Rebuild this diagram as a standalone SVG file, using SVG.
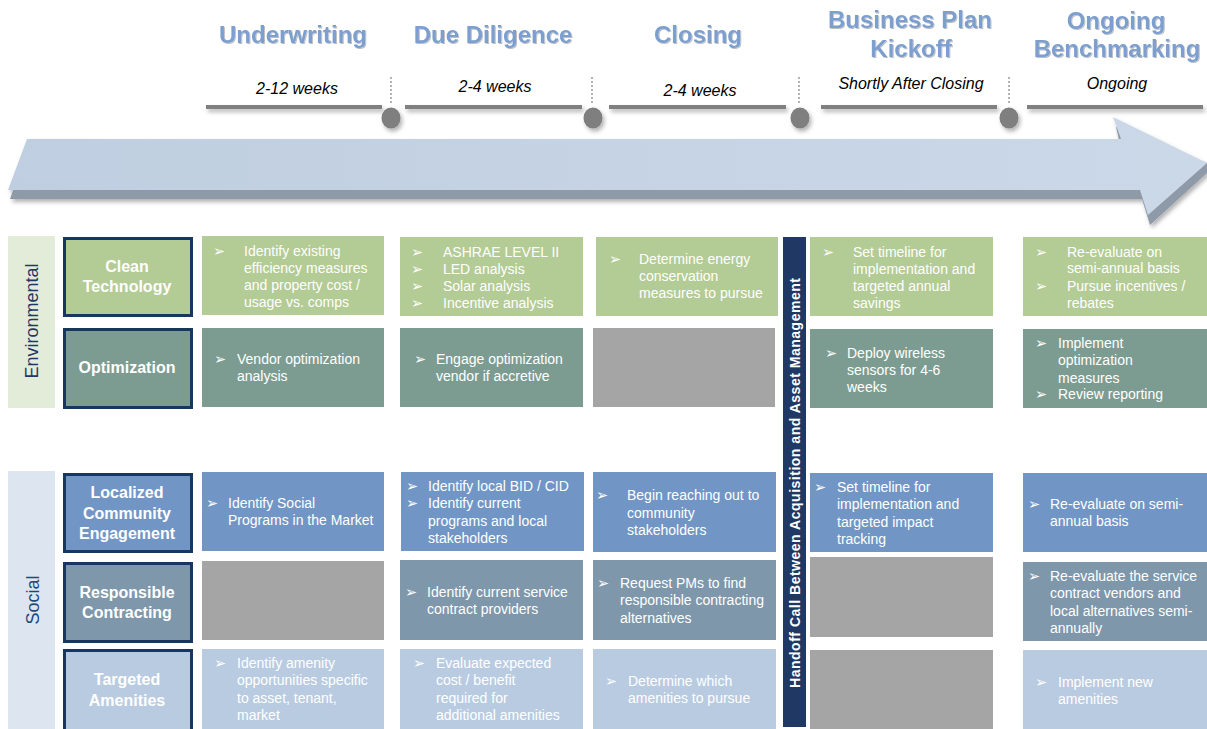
<svg xmlns="http://www.w3.org/2000/svg" width="1207" height="729" viewBox="0 0 1207 729">
<defs>
<style>
.hd{font-family:"Liberation Sans",Arial,sans-serif;font-weight:bold;font-size:24px;fill:#7b9fcf;text-anchor:middle}
.dur{font-family:"Liberation Sans",Arial,sans-serif;font-style:italic;font-size:16px;fill:#000;text-anchor:middle}
.bar{fill:#808080}
.dot{stroke:#9a9a9a;stroke-width:1.5;stroke-dasharray:2,2;fill:none}
.ms{fill:#7f7f7f}
.lbl{stroke:#17375e;stroke-width:3}
.lt{font-family:"Liberation Sans",Arial,sans-serif;font-weight:bold;font-size:16px;fill:#fff;text-anchor:middle}
.ct{font-family:"Liberation Sans",Arial,sans-serif;font-size:14px;fill:#fff}
.bl{font-family:"DejaVu Sans",sans-serif;font-size:14.5px;fill:#fff}
.g1{fill:#b3cb95}.g2{fill:#7d9c91}.b3{fill:#7196c5}.b4{fill:#7e97ab}.b5{fill:#b9cbe1}.gy{fill:#a5a5a5}
.cat{font-family:"Liberation Sans",Arial,sans-serif;font-size:18px;fill:#1f3864;text-anchor:middle}
</style>
<linearGradient id="arrowFace" x1="0" y1="0" x2="1" y2="0">
<stop offset="0" stop-color="#bfcee0"/>
<stop offset="1" stop-color="#cbd8e8"/>
</linearGradient>
<filter id="sh" x="-5%" y="-20%" width="110%" height="160%">
<feDropShadow dx="2" dy="3" stdDeviation="2" flood-color="#000" flood-opacity="0.3"/>
</filter>
<filter id="tsh" x="-5%" y="-20%" width="110%" height="150%">
<feDropShadow dx="1" dy="1" stdDeviation="0.6" flood-color="#000" flood-opacity="0.25"/>
</filter>
</defs>
<rect width="1207" height="729" fill="#fff"/>

<g id="headings">
<text class="hd" x="293" y="43" filter="url(#tsh)">Underwriting</text>
<text class="hd" x="493" y="43" filter="url(#tsh)">Due Diligence</text>
<text class="hd" x="698" y="43" filter="url(#tsh)">Closing</text>
<text class="hd" x="910" y="28" filter="url(#tsh)">Business Plan</text>
<text class="hd" x="911" y="57" filter="url(#tsh)">Kickoff</text>
<text class="hd" x="1116" y="29" filter="url(#tsh)">Ongoing</text>
<text class="hd" x="1117" y="57" filter="url(#tsh)">Benchmarking</text>
</g>

<g id="durations">
<text class="dur" x="297" y="94">2-12 weeks</text>
<text class="dur" x="495" y="92">2-4 weeks</text>
<text class="dur" x="700" y="96">2-4 weeks</text>
<text class="dur" x="911" y="89">Shortly After Closing</text>
<text class="dur" x="1117" y="89">Ongoing</text>
</g>

<g id="timeline" filter="url(#sh)">
<rect class="bar" x="206" y="105" width="176" height="4"/>
<rect class="bar" x="405" y="105" width="177" height="4"/>
<rect class="bar" x="609" y="105" width="177" height="4"/>
<rect class="bar" x="821" y="105" width="176" height="4"/>
<rect class="bar" x="1027" y="105" width="176" height="4"/>
<ellipse class="ms" cx="391" cy="118" rx="9.5" ry="10.5"/>
<ellipse class="ms" cx="593" cy="118" rx="9.5" ry="10.5"/>
<ellipse class="ms" cx="800" cy="118" rx="9.5" ry="10.5"/>
<ellipse class="ms" cx="1009" cy="118" rx="9.5" ry="10.5"/>
</g>
<g id="milestone-ticks">
<line class="dot" x1="391" y1="77" x2="391" y2="105"/>
<line class="dot" x1="592" y1="77" x2="592" y2="105"/>
<line class="dot" x1="799" y1="77" x2="799" y2="105"/>
<line class="dot" x1="1009" y1="77" x2="1009" y2="105"/>
</g>

<g id="arrow" filter="url(#sh)">
<path d="M10,199 L1142,199 L1150,225 L1207,173 L1207,163 L1116,127 L1121,149 L27,149 Z" fill="#8e9aa8"/>
<path d="M27,139 L1121,139 L1113,117 L1207,163 L1148,215 L1140,190 L8,190 Z" fill="url(#arrowFace)"/>
</g>

<g id="environmental">
<rect x="8" y="236" width="47" height="172" fill="#e3ebd9"/>
<text class="cat" transform="translate(38,321) rotate(-90)">Environmental</text>
</g>
<g id="social">
<rect x="8" y="471" width="47" height="258" fill="#dde6f0"/>
<text class="cat" transform="translate(39,600) rotate(-90)" style="fill:#1f497d">Social</text>
</g>

<g id="label-clean-technology">
<rect class="g1 lbl" x="64.5" y="238.5" width="127" height="77"/>
<text class="lt" x="127" y="272">Clean</text>
<text class="lt" x="127" y="292">Technology</text>
</g>
<g id="label-optimization">
<rect class="g2 lbl" x="64.5" y="329.5" width="127" height="78"/>
<text class="lt" x="127" y="373">Optimization</text>
</g>
<g id="label-community">
<rect class="b3 lbl" x="64.5" y="474.5" width="127" height="77"/>
<text class="lt" x="127" y="498">Localized</text>
<text class="lt" x="127" y="519">Community</text>
<text class="lt" x="127" y="539">Engagement</text>
</g>
<g id="label-contracting">
<rect class="b4 lbl" x="64.5" y="563.5" width="127" height="78"/>
<text class="lt" x="127" y="598">Responsible</text>
<text class="lt" x="127" y="618">Contracting</text>
</g>
<g id="label-amenities">
<rect class="b5 lbl" x="64.5" y="650.5" width="127" height="80"/>
<text class="lt" x="127" y="685">Targeted</text>
<text class="lt" x="127" y="706">Amenities</text>
</g>

<g id="handoff-bar">
<rect x="783" y="237" width="23" height="490" fill="#1f3864"/>
<text transform="translate(799.5,483) rotate(-90)" font-family="Liberation Sans, Arial, sans-serif" font-weight="bold" font-size="14" fill="#fff" text-anchor="middle" textLength="410" lengthAdjust="spacing">Handoff Call Between Acquisition  and Asset Management</text>
</g>

<!-- Row 1: Clean Technology -->
<g id="r1c1"><rect class="g1" x="202" y="236" width="182" height="79"/>
<text class="bl" x="213" y="256">➢</text>
<text class="ct"><tspan x="244" y="255.5">Identify existing</tspan><tspan x="244" y="272.5">efficiency measures</tspan><tspan x="244" y="290">and property cost /</tspan><tspan x="244" y="307">usage vs. comps</tspan></text></g>
<g id="r1c2"><rect class="g1" x="400" y="237" width="183" height="79"/>
<text class="bl"><tspan x="411" y="257">➢</tspan><tspan x="411" y="274">➢</tspan><tspan x="411" y="291">➢</tspan><tspan x="411" y="308">➢</tspan></text>
<text class="ct"><tspan x="443" y="257">ASHRAE  LEVEL II</tspan><tspan x="443" y="274">LED analysis</tspan><tspan x="443" y="291">Solar analysis</tspan><tspan x="443" y="308">Incentive analysis</tspan></text></g>
<g id="r1c3"><rect class="g1" x="596" y="237" width="182" height="79"/>
<text class="bl" x="609" y="264">➢</text>
<text class="ct"><tspan x="639" y="264">Determine energy</tspan><tspan x="639" y="281">conservation</tspan><tspan x="639" y="298">measures to pursue</tspan></text></g>
<g id="r1c4"><rect class="g1" x="810" y="237" width="183" height="79"/>
<text class="bl" x="822" y="257">➢</text>
<text class="ct"><tspan x="853" y="256.5">Set timeline for</tspan><tspan x="853" y="273.5">implementation and</tspan><tspan x="853" y="291">targeted annual</tspan><tspan x="853" y="308">savings</tspan></text></g>
<g id="r1c5"><rect class="g1" x="1023" y="237" width="184" height="79"/>
<text class="bl"><tspan x="1035" y="257">➢</tspan><tspan x="1035" y="291">➢</tspan></text>
<text class="ct"><tspan x="1067" y="256.5">Re-evaluate on</tspan><tspan x="1067" y="273">semi-annual basis</tspan><tspan x="1067" y="291">Pursue incentives /</tspan><tspan x="1067" y="308">rebates</tspan></text></g>

<!-- Row 2: Optimization -->
<g id="r2c1"><rect class="g2" x="202" y="328" width="182" height="79"/>
<text class="bl" x="214" y="364">➢</text>
<text class="ct"><tspan x="237" y="364">Vendor optimization</tspan><tspan x="237" y="381">analysis</tspan></text></g>
<g id="r2c2"><rect class="g2" x="400" y="328" width="183" height="79"/>
<text class="bl" x="414" y="364">➢</text>
<text class="ct"><tspan x="436" y="364">Engage optimization</tspan><tspan x="436" y="381">vendor if accretive</tspan></text></g>
<g id="r2c3"><rect class="gy" x="593" y="328" width="182" height="79"/></g>
<g id="r2c4"><rect class="g2" x="810" y="329" width="183" height="79"/>
<text class="bl" x="825" y="358">➢</text>
<text class="ct"><tspan x="847" y="357.5">Deploy wireless</tspan><tspan x="847" y="374.5">sensors for 4-6</tspan><tspan x="847" y="391.5">weeks</tspan></text></g>
<g id="r2c5"><rect class="g2" x="1023" y="329" width="184" height="79"/>
<text class="bl"><tspan x="1035" y="348">➢</tspan><tspan x="1035" y="399">➢</tspan></text>
<text class="ct"><tspan x="1058" y="348">Implement</tspan><tspan x="1058" y="365">optimization</tspan><tspan x="1058" y="382.5">measures</tspan><tspan x="1058" y="399">Review reporting</tspan></text></g>

<!-- Row 3: Community -->
<g id="r3c1"><rect class="b3" x="202" y="472" width="182" height="79"/>
<text class="bl" x="206" y="508">➢</text>
<text class="ct"><tspan x="228" y="508">Identify Social</tspan><tspan x="228" y="525">Programs in the Market</tspan></text></g>
<g id="r3c2"><rect class="b3" x="401" y="472" width="183" height="79"/>
<text class="bl"><tspan x="406" y="491">➢</tspan><tspan x="406" y="508">➢</tspan></text>
<text class="ct"><tspan x="428" y="491">Identify local BID / CID</tspan><tspan x="428" y="508">Identify current</tspan><tspan x="428" y="526">programs and local</tspan><tspan x="428" y="543">stakeholders</tspan></text></g>
<g id="r3c3"><rect class="b3" x="593" y="472" width="183" height="80"/>
<text class="bl" x="596" y="500">➢</text>
<text class="ct"><tspan x="627" y="500">Begin reaching out to</tspan><tspan x="627" y="517.5">community</tspan><tspan x="627" y="535">stakeholders</tspan></text></g>
<g id="r3c4"><rect class="b3" x="810" y="473" width="183" height="79"/>
<text class="bl" x="814" y="492">➢</text>
<text class="ct"><tspan x="837" y="491.5">Set timeline for</tspan><tspan x="837" y="509">implementation and</tspan><tspan x="837" y="526.5">targeted impact</tspan><tspan x="837" y="544">tracking</tspan></text></g>
<g id="r3c5"><rect class="b3" x="1023" y="473" width="184" height="79"/>
<text class="bl" x="1028" y="509">➢</text>
<text class="ct"><tspan x="1050" y="509">Re-evaluate on semi-</tspan><tspan x="1050" y="526">annual basis</tspan></text></g>

<!-- Row 4: Contracting -->
<g id="r4c1"><rect class="gy" x="202" y="561" width="182" height="79"/></g>
<g id="r4c2"><rect class="b4" x="400" y="560" width="183" height="80"/>
<text class="bl" x="405" y="597">➢</text>
<text class="ct"><tspan x="427" y="597">Identify current service</tspan><tspan x="427" y="614">contract providers</tspan></text></g>
<g id="r4c3"><rect class="b4" x="593" y="560" width="183" height="80"/>
<text class="bl" x="597" y="588">➢</text>
<text class="ct"><tspan x="620" y="588">Request PMs to find</tspan><tspan x="620" y="605">responsible contracting</tspan><tspan x="620" y="622.5">alternatives</tspan></text></g>
<g id="r4c4"><rect class="gy" x="810" y="557" width="183" height="80"/></g>
<g id="r4c5"><rect class="b4" x="1023" y="562" width="184" height="79"/>
<text class="bl" x="1028" y="581">➢</text>
<text class="ct"><tspan x="1050" y="581">Re-evaluate the service</tspan><tspan x="1050" y="598">contract vendors and</tspan><tspan x="1050" y="616">local alternatives semi-</tspan><tspan x="1050" y="633">annually</tspan></text></g>

<!-- Row 5: Amenities -->
<g id="r5c1"><rect class="b5" x="202" y="649" width="182" height="80"/>
<text class="bl" x="214" y="668">➢</text>
<text class="ct"><tspan x="237" y="668">Identify amenity</tspan><tspan x="237" y="685">opportunities specific</tspan><tspan x="237" y="703">to asset, tenant,</tspan><tspan x="237" y="720">market</tspan></text></g>
<g id="r5c2"><rect class="b5" x="400" y="649" width="183" height="80"/>
<text class="bl" x="413" y="668">➢</text>
<text class="ct"><tspan x="436" y="668">Evaluate expected</tspan><tspan x="436" y="685">cost / benefit</tspan><tspan x="436" y="703">required for</tspan><tspan x="436" y="720">additional amenities</tspan></text></g>
<g id="r5c3"><rect class="b5" x="593" y="649" width="183" height="80"/>
<text class="bl" x="605" y="686">➢</text>
<text class="ct"><tspan x="628" y="686">Determine which</tspan><tspan x="628" y="703">amenities to pursue</tspan></text></g>
<g id="r5c4"><rect class="gy" x="810" y="650" width="183" height="79"/></g>
<g id="r5c5"><rect class="b5" x="1023" y="650" width="184" height="79"/>
<text class="bl" x="1035" y="687">➢</text>
<text class="ct"><tspan x="1058" y="687">Implement  new</tspan><tspan x="1058" y="704">amenities</tspan></text></g>

<g id="connectors"></g>
</svg>
